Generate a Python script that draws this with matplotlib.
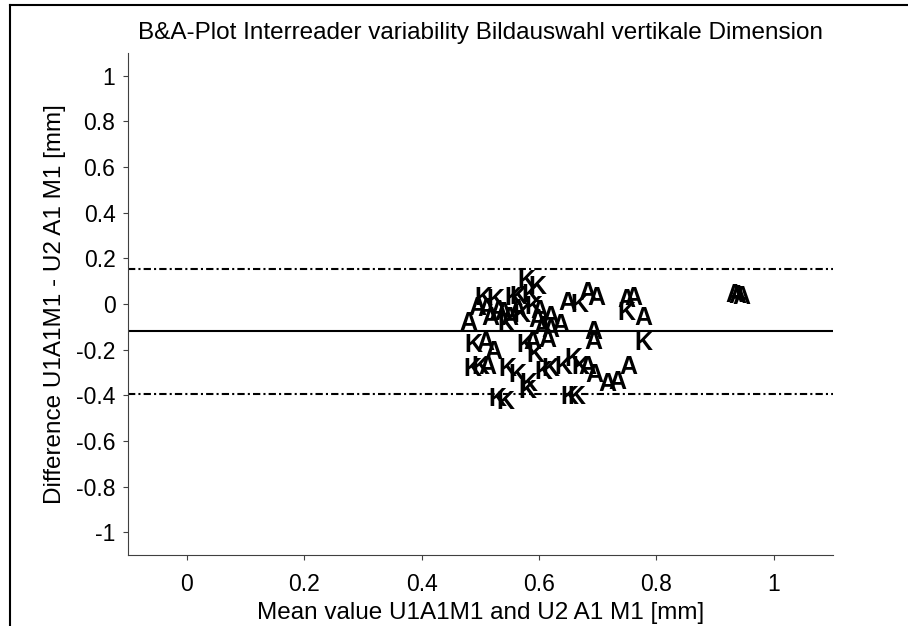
import matplotlib
matplotlib.use("Agg")
import matplotlib.pyplot as plt
from matplotlib.lines import Line2D

plt.rcParams["font.family"] = ["Liberation Sans", "DejaVu Sans"]

# readings: group letter, mean value (x) and difference (y)
labels = ["K", "K", "K", "K", "A", "A", "K", "A", "A", "A",
          "K", "A", "A", "A", "A", "K", "A", "A", "A", "A",
          "K", "A", "K", "A", "A", "K", "A", "A", "K", "A",
          "A", "A", "K", "K", "K", "A", "K", "K", "K", "K",
          "K", "K", "K", "A", "A", "A", "A", "A", "K", "K",
          "K", "K", "K", "K", "A", "A", "A",
          "A", "A", "K", "A", "K", "A", "K", "A", "K"]
mean_vals = [0.579, 0.598, 0.505, 0.526, 0.495, 0.479, 0.557, 0.563, 0.540, 0.517,
             0.591, 0.598, 0.620, 0.637, 0.649, 0.668, 0.683, 0.697, 0.748, 0.760,
             0.748, 0.777, 0.777, 0.692, 0.692, 0.488, 0.509, 0.522, 0.577, 0.589,
             0.615, 0.620, 0.594, 0.486, 0.500, 0.512, 0.546, 0.563, 0.608, 0.620,
             0.642, 0.658, 0.671, 0.683, 0.694, 0.717, 0.734, 0.752, 0.582, 0.580,
             0.529, 0.543, 0.651, 0.663, 0.932, 0.938, 0.945,
             0.530, 0.550, 0.570, 0.600, 0.585, 0.605, 0.545, 0.510, 0.565]
diff_vals = [0.100, 0.074, 0.026, 0.017, -0.017, -0.083, 0.026, -0.026, -0.040, -0.061,
             -0.013, -0.070, -0.056, -0.091, 0.004, -0.004, 0.048, 0.026, 0.017, 0.026,
             -0.040, -0.061, -0.170, -0.122, -0.165, -0.178, -0.170, -0.209, -0.178, -0.165,
             -0.157, -0.113, -0.222, -0.287, -0.278, -0.278, -0.287, -0.309, -0.296, -0.287,
             -0.274, -0.243, -0.278, -0.278, -0.309, -0.352, -0.343, -0.274, -0.352, -0.383,
             -0.417, -0.430, -0.409, -0.409, 0.040, 0.035, 0.030,
             -0.030, -0.060, -0.050, -0.030, 0.040, -0.100, -0.090, -0.020, 0.030]

mean_diff = -0.12
upper_loa = 0.153
lower_loa = -0.393

fig = plt.figure(figsize=(9.08, 6.26), dpi=100)
ax = fig.add_axes([0.141, 0.1134, 0.776, 0.802])

for lab, xv, yv in zip(labels, mean_vals, diff_vals):
    ax.text(xv, yv, lab, fontsize=18, fontweight="bold", ha="center", va="center",
            color="black")

ax.axhline(mean_diff, color="black", lw=1.5)
ax.axhline(upper_loa, color="black", lw=1.5, dashes=(3.5, 1.5, 1, 1.5))
ax.axhline(lower_loa, color="black", lw=1.5, dashes=(3.5, 1.5, 1, 1.5))

ax.set_xlim(-0.1, 1.1)
ax.set_ylim(-1.1, 1.1)
ax.set_xticks([0, 0.2, 0.4, 0.6, 0.8, 1])
ax.set_xticklabels(["0", "0.2", "0.4", "0.6", "0.8", "1"])
ax.set_yticks([-1, -0.8, -0.6, -0.4, -0.2, 0, 0.2, 0.4, 0.6, 0.8, 1])
ax.set_yticklabels(["-1", "-0.8", "-0.6", "-0.4", "-0.2", "0", "0.2", "0.4", "0.6", "0.8", "1"])

for side in ["top", "right"]:
    ax.spines[side].set_visible(False)
for side in ["left", "bottom"]:
    ax.spines[side].set_color("#404040")
ax.tick_params(axis="x", direction="out", length=3.6, pad=9, labelsize=16.5, color="#404040")
ax.tick_params(axis="y", direction="out", length=3.6, pad=5.5, labelsize=16.5, color="#404040")

ax.set_title("B&A-Plot Interreader variability Bildauswahl vertikale Dimension",
             fontsize=17.5, pad=10)
ax.set_xlabel("Mean value U1A1M1 and U2 A1 M1 [mm]", fontsize=17.5, labelpad=5)
ax.set_ylabel("Difference U1A1M1 - U2 A1 M1 [mm]", fontsize=17.5, labelpad=7)

# frame line of the original window (left and top edge)
bx = 10 / 908
by = 1 - 5 / 626
fig.add_artist(Line2D([bx, bx], [0, by], transform=fig.transFigure, color="black", lw=1.5))
fig.add_artist(Line2D([bx, 1], [by, by], transform=fig.transFigure, color="black", lw=1.5))

fig.savefig("out.png", dpi=100)
